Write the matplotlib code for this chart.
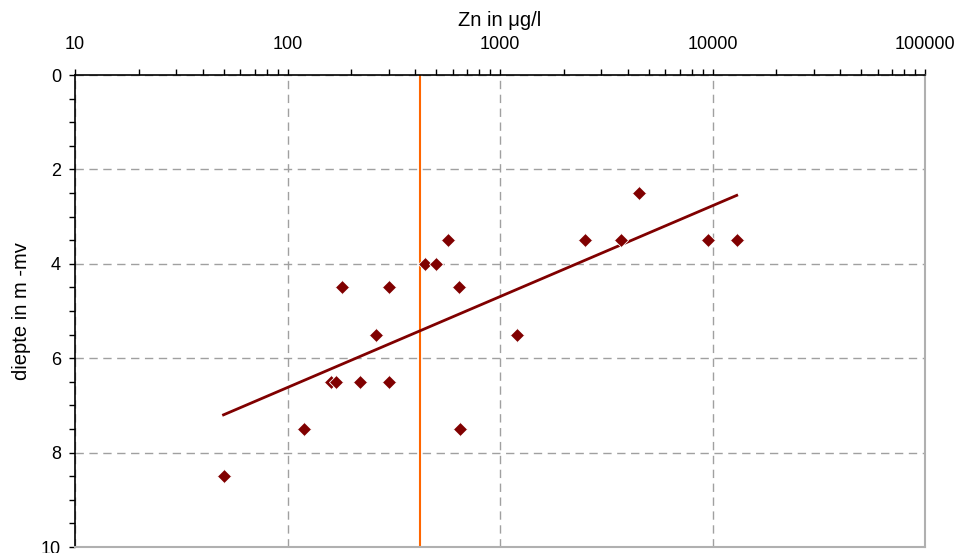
import numpy as np
import matplotlib.pyplot as plt
from matplotlib.ticker import LogLocator, MultipleLocator, FixedLocator, NullFormatter

plt.rcParams['font.family'] = ['Liberation Sans', 'DejaVu Sans']

# Zn concentration (ug/l) against depth (m -mv)
zn = [50, 120, 650, 160, 170, 220, 300, 260, 180, 300, 640, 445, 500, 570,
      1200, 2500, 3700, 4500, 9500, 13000]
diepte = [8.5, 7.5, 7.5, 6.5, 6.5, 6.5, 6.5, 5.5, 4.5, 4.5, 4.5, 4.0, 4.0, 3.5,
          5.5, 3.5, 3.5, 2.5, 3.5, 3.5]

# logarithmic trend line end points
trend_x = [50, 13000]
trend_y = [7.2, 2.55]

# reference value
norm = 420

fig = plt.figure(figsize=(9.6, 5.53), dpi=100)
ax = fig.add_axes([75/960, 1-547/553, 850/960, 472/553])

ax.set_xscale('log')
ax.set_xlim(10, 100000)
ax.set_ylim(10, 0)

ax.grid(True, which='major', linestyle=(0, (6, 4)), color='#a0a0a0', linewidth=1)
ax.set_axisbelow(True)

ax.axvline(norm, color='#ff6600', linewidth=1.5, zorder=2)
ax.plot(trend_x, trend_y, color='#800000', linewidth=2, zorder=3)
ax.plot(zn, diepte, 'D', color='#800000', markersize=7, markeredgecolor='white',
        markeredgewidth=0.6, zorder=4)

ax.xaxis.tick_top()
ax.xaxis.set_label_position('top')
ax.set_xlabel('Zn in μg/l', fontsize=14.5, labelpad=7)
ax.set_ylabel('diepte in m -mv', fontsize=14.5, labelpad=7)

ax.xaxis.set_major_locator(FixedLocator([10, 100, 1000, 10000, 100000]))
ax.set_xticklabels(['10', '100', '1000', '10000', '100000'])
ax.xaxis.set_minor_locator(LogLocator(base=10, subs=np.arange(2, 10)))
ax.xaxis.set_minor_formatter(NullFormatter())
ax.yaxis.set_major_locator(MultipleLocator(2))
ax.yaxis.set_minor_locator(MultipleLocator(0.5))

ax.tick_params(axis='x', which='both', direction='out', length=4, width=1,
               labelsize=13, pad=12, colors='black')
ax.tick_params(axis='y', which='both', direction='out', length=4, width=1,
               labelsize=13, pad=6)

for side in ['left', 'top']:
    ax.spines[side].set_color('black')
    ax.spines[side].set_linewidth(1.2)
for side in ['right', 'bottom']:
    ax.spines[side].set_color('#b0b0b0')
    ax.spines[side].set_linewidth(1.5)

fig.savefig('out.png', dpi=100)
